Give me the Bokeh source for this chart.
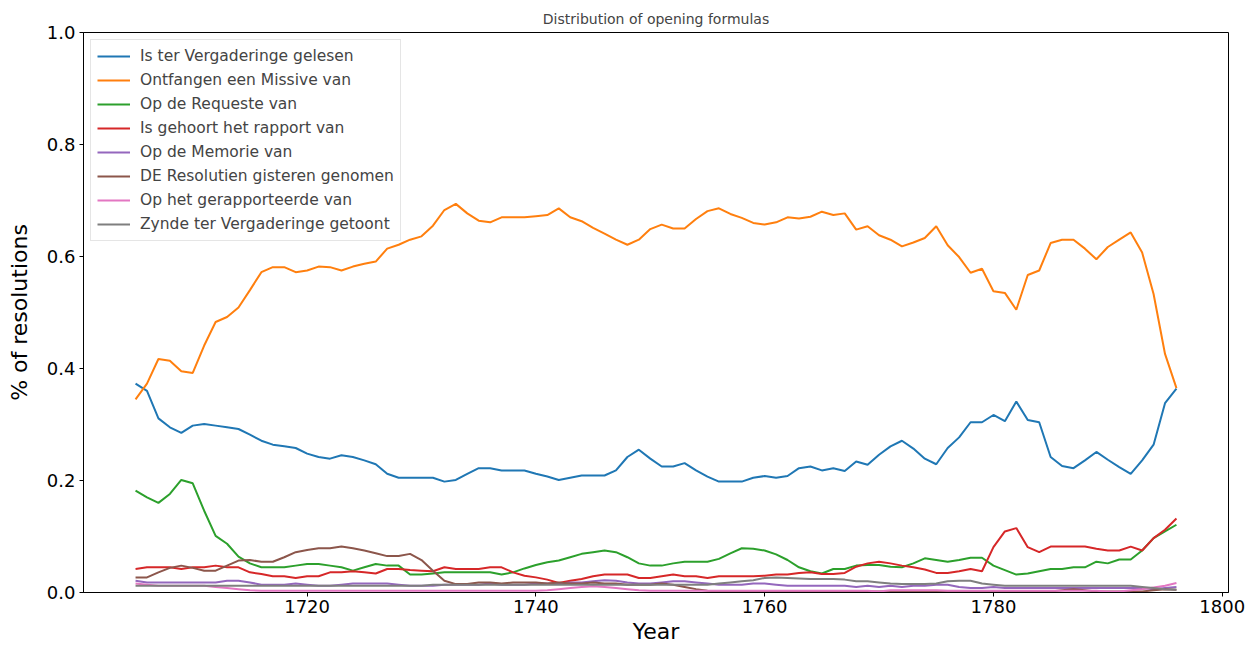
from bokeh.plotting import figure
from bokeh.models import FixedTicker, PrintfTickFormatter, Range1d, Legend
from bokeh.embed import file_html
from bokeh.resources import INLINE

years = list(range(1705, 1797))

ontfangen = [0.345, 0.373, 0.417, 0.414, 0.395, 0.392, 0.441, 0.483, 0.492, 0.509,
             0.540, 0.572, 0.581, 0.581, 0.572, 0.575, 0.582, 0.581, 0.575, 0.582,
             0.587, 0.591, 0.614, 0.621, 0.630, 0.636, 0.655, 0.683, 0.694, 0.677,
             0.664, 0.661, 0.670, 0.670, 0.670, 0.672, 0.674, 0.686, 0.670, 0.663,
             0.651, 0.641, 0.630, 0.621, 0.630, 0.649, 0.657, 0.650, 0.650, 0.667,
             0.681, 0.686, 0.676, 0.669, 0.660, 0.657, 0.661, 0.670, 0.668, 0.671,
             0.680, 0.674, 0.677, 0.648, 0.654, 0.638, 0.630, 0.618, 0.625, 0.633,
             0.654, 0.620, 0.599, 0.571, 0.578, 0.538, 0.535, 0.505, 0.567, 0.575,
             0.624, 0.630, 0.630, 0.614, 0.595, 0.617, 0.630, 0.643, 0.607, 0.533,
             0.426, 0.365]

gelesen = [0.373, 0.360, 0.311, 0.295, 0.285, 0.298, 0.301, 0.298, 0.295, 0.292,
           0.282, 0.271, 0.264, 0.261, 0.258, 0.248, 0.242, 0.239, 0.245, 0.242,
           0.236, 0.229, 0.212, 0.205, 0.205, 0.205, 0.205, 0.198, 0.201, 0.212,
           0.222, 0.222, 0.218, 0.218, 0.218, 0.212, 0.207, 0.201, 0.205, 0.209,
           0.209, 0.209, 0.218, 0.242, 0.255, 0.239, 0.225, 0.225, 0.231, 0.218,
           0.207, 0.198, 0.198, 0.198, 0.205, 0.208, 0.205, 0.208, 0.222, 0.225,
           0.218, 0.222, 0.217, 0.234, 0.228, 0.246, 0.261, 0.271, 0.257, 0.239,
           0.229, 0.258, 0.277, 0.304, 0.304, 0.317, 0.306, 0.341, 0.308, 0.304,
           0.242, 0.226, 0.222, 0.236, 0.251, 0.237, 0.224, 0.212, 0.236, 0.264,
           0.338, 0.364]

requeste = [0.182, 0.170, 0.160, 0.176, 0.201, 0.195, 0.146, 0.101, 0.087, 0.064,
            0.052, 0.045, 0.045, 0.045, 0.048, 0.051, 0.051, 0.048, 0.045, 0.039,
            0.045, 0.051, 0.048, 0.048, 0.032, 0.032, 0.034, 0.036, 0.036, 0.036,
            0.036, 0.036, 0.032, 0.036, 0.043, 0.049, 0.054, 0.057, 0.063, 0.069,
            0.072, 0.075, 0.072, 0.063, 0.052, 0.048, 0.048, 0.052, 0.055, 0.055,
            0.055, 0.060, 0.070, 0.079, 0.078, 0.075, 0.068, 0.058, 0.045, 0.038,
            0.034, 0.042, 0.042, 0.048, 0.049, 0.049, 0.046, 0.045, 0.052, 0.061,
            0.058, 0.055, 0.058, 0.062, 0.062, 0.048, 0.040, 0.032, 0.034, 0.038,
            0.042, 0.042, 0.045, 0.045, 0.055, 0.052, 0.059, 0.059, 0.075, 0.097,
            0.109, 0.121]

rapport = [0.042, 0.045, 0.045, 0.045, 0.042, 0.045, 0.045, 0.048, 0.045, 0.045,
           0.036, 0.033, 0.029, 0.029, 0.026, 0.029, 0.029, 0.036, 0.036, 0.038,
           0.036, 0.034, 0.042, 0.042, 0.040, 0.039, 0.038, 0.045, 0.042, 0.042,
           0.042, 0.045, 0.045, 0.036, 0.030, 0.027, 0.023, 0.017, 0.021, 0.024,
           0.029, 0.032, 0.032, 0.032, 0.026, 0.026, 0.029, 0.032, 0.029, 0.029,
           0.026, 0.029, 0.029, 0.029, 0.029, 0.030, 0.032, 0.032, 0.035, 0.036,
           0.033, 0.033, 0.035, 0.046, 0.052, 0.055, 0.052, 0.048, 0.045, 0.041,
           0.035, 0.035, 0.038, 0.042, 0.038, 0.081, 0.109, 0.115, 0.081, 0.072,
           0.082, 0.082, 0.082, 0.082, 0.078, 0.075, 0.075, 0.082, 0.075, 0.097,
           0.112, 0.132]

memorie = [0.021, 0.018, 0.018, 0.018, 0.018, 0.018, 0.018, 0.018, 0.021, 0.021,
           0.018, 0.014, 0.014, 0.014, 0.016, 0.014, 0.012, 0.012, 0.014, 0.016,
           0.016, 0.016, 0.016, 0.014, 0.012, 0.012, 0.012, 0.014, 0.014, 0.014,
           0.014, 0.016, 0.014, 0.014, 0.014, 0.016, 0.016, 0.016, 0.018, 0.018,
           0.020, 0.022, 0.021, 0.018, 0.016, 0.016, 0.018, 0.020, 0.020, 0.018,
           0.016, 0.014, 0.014, 0.014, 0.016, 0.016, 0.014, 0.012, 0.012, 0.012,
           0.012, 0.012, 0.012, 0.010, 0.012, 0.010, 0.012, 0.010, 0.012, 0.012,
           0.014, 0.014, 0.010, 0.008, 0.008, 0.010, 0.008, 0.008, 0.008, 0.008,
           0.008, 0.008, 0.008, 0.008, 0.008, 0.008, 0.008, 0.008, 0.008, 0.006,
           0.008, 0.010]

resolutien = [0.027, 0.027, 0.036, 0.044, 0.048, 0.044, 0.039, 0.039, 0.048, 0.057,
              0.058, 0.055, 0.055, 0.063, 0.072, 0.076, 0.079, 0.079, 0.082, 0.079,
              0.075, 0.070, 0.065, 0.065, 0.069, 0.058, 0.039, 0.021, 0.015, 0.015,
              0.018, 0.018, 0.016, 0.018, 0.018, 0.018, 0.016, 0.018, 0.016, 0.016,
              0.018, 0.016, 0.016, 0.014, 0.014, 0.014, 0.016, 0.014, 0.010, 0.006,
              0.003, 0.002, 0.002, 0.002, 0.002, 0.002, 0.002, 0.002, 0.002, 0.002,
              0.002, 0.002, 0.002, 0.002, 0.002, 0.002, 0.002, 0.002, 0.002, 0.002,
              0.002, 0.002, 0.002, 0.002, 0.002, 0.002, 0.002, 0.002, 0.002, 0.002,
              0.002, 0.004, 0.006, 0.004, 0.002, 0.002, 0.002, 0.002, 0.002, 0.004,
              0.006, 0.005]

gerapporteerde = [0.016, 0.014, 0.012, 0.012, 0.012, 0.012, 0.012, 0.010, 0.008, 0.006,
                  0.004, 0.003, 0.003, 0.003, 0.003, 0.003, 0.003, 0.003, 0.003, 0.003,
                  0.003, 0.003, 0.003, 0.003, 0.003, 0.003, 0.003, 0.003, 0.003, 0.003,
                  0.003, 0.003, 0.003, 0.003, 0.003, 0.003, 0.004, 0.006, 0.008, 0.010,
                  0.011, 0.010, 0.008, 0.006, 0.004, 0.003, 0.003, 0.003, 0.003, 0.003,
                  0.003, 0.003, 0.003, 0.003, 0.003, 0.003, 0.003, 0.003, 0.003, 0.003,
                  0.003, 0.003, 0.003, 0.003, 0.003, 0.002, 0.004, 0.004, 0.004, 0.004,
                  0.004, 0.003, 0.003, 0.003, 0.003, 0.003, 0.003, 0.003, 0.003, 0.003,
                  0.003, 0.003, 0.003, 0.003, 0.003, 0.002, 0.002, 0.004, 0.006, 0.009,
                  0.012, 0.017]

getoont = [0.012, 0.012, 0.012, 0.012, 0.012, 0.012, 0.012, 0.012, 0.012, 0.012,
           0.012, 0.012, 0.012, 0.012, 0.012, 0.012, 0.012, 0.012, 0.012, 0.012,
           0.012, 0.012, 0.012, 0.012, 0.012, 0.012, 0.014, 0.014, 0.014, 0.014,
           0.014, 0.014, 0.014, 0.014, 0.014, 0.014, 0.014, 0.014, 0.014, 0.014,
           0.014, 0.014, 0.014, 0.014, 0.014, 0.014, 0.014, 0.014, 0.014, 0.014,
           0.014, 0.016, 0.018, 0.020, 0.022, 0.026, 0.027, 0.026, 0.025, 0.024,
           0.024, 0.024, 0.023, 0.020, 0.020, 0.018, 0.016, 0.015, 0.015, 0.015,
           0.016, 0.020, 0.021, 0.021, 0.016, 0.014, 0.012, 0.012, 0.012, 0.012,
           0.012, 0.012, 0.012, 0.012, 0.012, 0.012, 0.012, 0.012, 0.010, 0.008,
           0.006, 0.005]

labels = ["Is ter Vergaderinge gelesen", "Ontfangen een Missive van", "Op de Requeste van",
          "Is gehoort het rapport van", "Op de Memorie van", "DE Resolutien gisteren genomen",
          "Op het gerapporteerde van", "Zynde ter Vergaderinge getoont"]
series = [gelesen, ontfangen, requeste, rapport, memorie, resolutien, gerapporteerde, getoont]
colors = ["#1f77b4", "#ff7f0e", "#2ca02c", "#d62728", "#9467bd", "#8c564b", "#e377c2", "#7f7f7f"]

x_ticks = [1720, 1740, 1760, 1780, 1800]
y_ticks = [0.0, 0.2, 0.4, 0.6, 0.8, 1.0]

FONT = "DejaVu Sans"

p = figure(width=1247, height=646, output_backend="svg", toolbar_location=None,
           title="Distribution of opening formulas",
           x_range=Range1d(1700.45, 1800.55), y_range=Range1d(0, 1),
           min_border_left=83, min_border_right=19, min_border_top=32, min_border_bottom=54)

p.title.align = "center"
p.title.text_font = FONT
p.title.text_font_size = "14px"
p.title.text_font_style = "normal"
p.title.standoff = 12

renderers = []
for lab, ys, c in zip(labels, series, colors):
    r = p.line(years, ys, line_color=c, line_width=2)
    renderers.append((lab, [r]))

legend = Legend(items=renderers, location="top_left")
legend.label_text_font = FONT
legend.label_text_font_size = "15.5px"
legend.glyph_width = 33
legend.glyph_height = 20
legend.label_height = 20
legend.label_standoff = 10
legend.spacing = 4
legend.padding = 6
legend.margin = 7
legend.border_line_color = "#cccccc"
legend.border_line_width = 1
legend.background_fill_alpha = 0.8
p.add_layout(legend)

p.xgrid.visible = False
p.ygrid.visible = False
p.outline_line_color = "black"
p.outline_line_width = 1

for ax in (p.xaxis[0], p.yaxis[0]):
    ax.major_label_text_font = FONT
    ax.major_label_text_font_size = "18px"
    ax.axis_label_text_font = FONT
    ax.axis_label_text_font_size = "22px"
    ax.axis_label_text_font_style = "normal"
    ax.major_tick_in = 0
    ax.major_tick_out = 4
    ax.minor_tick_in = 0
    ax.minor_tick_out = 0
    ax.axis_line_color = "black"
    ax.major_tick_line_color = "black"
    ax.major_label_text_color = "black"
    ax.axis_label_text_color = "black"

p.xaxis.ticker = FixedTicker(ticks=x_ticks)
p.yaxis.ticker = FixedTicker(ticks=y_ticks)
p.yaxis.formatter = PrintfTickFormatter(format="%.1f")
p.xaxis.axis_label = "Year"
p.yaxis.axis_label = "% of resolutions"
p.xaxis.major_label_standoff = 3
p.xaxis.axis_label_standoff = 3
p.yaxis.major_label_standoff = 4
p.yaxis.axis_label_standoff = 12

open("out.html", "w").write(file_html(p, INLINE))
